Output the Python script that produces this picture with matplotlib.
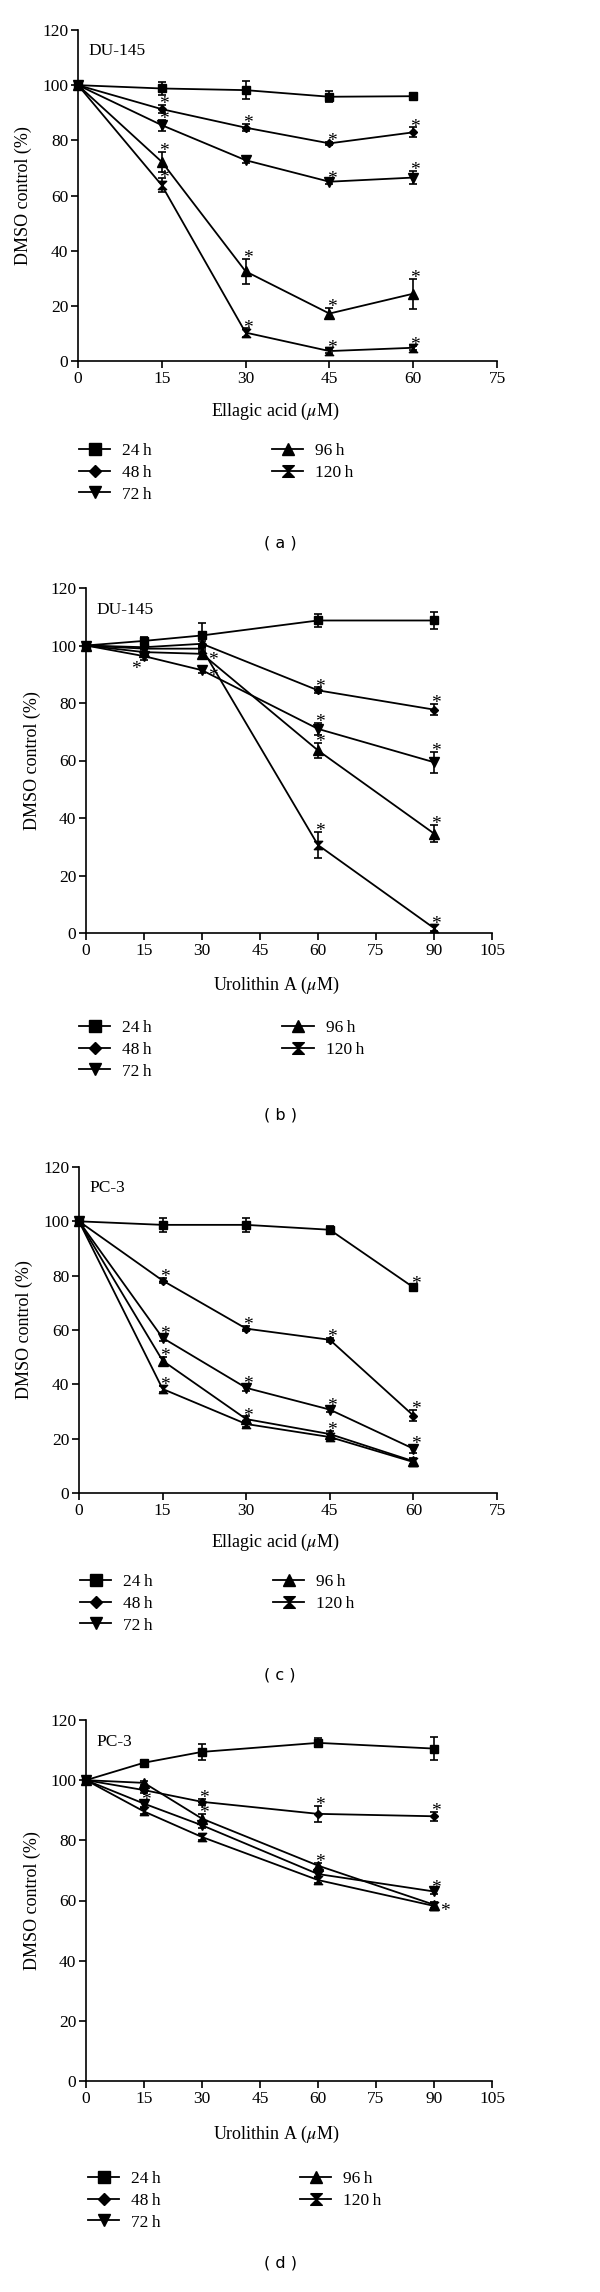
import matplotlib
matplotlib.use("Agg")
import matplotlib.pyplot as plt
from matplotlib.lines import Line2D

plt.rcParams['font.family'] = ['Liberation Serif', 'DejaVu Serif']
plt.rcParams['mathtext.fontset'] = 'stix'

# === données ===
labels = ["24\u2009h", "48\u2009h", "72\u2009h", "96\u2009h", "120\u2009h"]

# (a) DU-145, acide ellagique
xa = [0, 15, 30, 45, 60]
a_24 = [100, 98.8, 98.2, 95.8, 96.0]
a_48 = [100, 91.3, 84.6, 78.9, 82.9]
a_72 = [100, 85.5, 72.8, 65.0, 66.5]
a_96 = [100, 72.2, 32.5, 17.2, 24.4]
a_120 = [100, 63.7, 10.3, 3.6, 4.8]
a_err = [[0, 2.5, 3.3, 2.0, 1.0], [0, 1.5, 1.3, 0.5, 1.8], [0, 2.0, 1.0, 0.7, 2.5],
         [0, 3.5, 4.5, 2.0, 5.5], [0, 2.5, 1.5, 0.7, 0.8]]
a_sig = [[0, 0, 0, 0, 0], [0, 1, 1, 1, 1], [0, 1, 0, 1, 1], [0, 1, 1, 1, 1], [0, 1, 1, 1, 1]]

# (b) DU-145, urolithine A
xb = [0, 15, 30, 60, 90]
b_24 = [100, 101.6, 103.5, 108.7, 108.7]
b_48 = [100, 99.4, 100.6, 84.4, 77.7]
b_72 = [100, 96.3, 91.4, 71.0, 59.4]
b_96 = [100, 97.7, 97.1, 63.5, 34.6]
b_120 = [100, 98.9, 98.9, 30.6, 1.7]
b_err = [[0, 1.5, 4.2, 2.2, 3.0], [0, 1.0, 1.0, 1.0, 2.0], [0, 1.5, 1.0, 2.0, 3.6],
         [0, 1.0, 1.5, 2.5, 3.0], [0, 1.0, 1.0, 4.5, 1.0]]
b_sig = [[0, 0, 0, 0, 0], [0, 0, 0, 1, 1], [0, 'l', 'r', 1, 1], [0, 0, 'r', 1, 1], [0, 0, 0, 1, 1]]

# (c) PC-3, acide ellagique
xc = [0, 15, 30, 45, 60]
c_24 = [100, 98.7, 98.7, 96.9, 75.7]
c_48 = [100, 78.2, 60.5, 56.4, 28.5]
c_72 = [100, 57.1, 38.7, 30.7, 16.3]
c_96 = [100, 48.7, 27.2, 21.7, 11.7]
c_120 = [100, 38.3, 25.4, 20.6, 11.4]
c_err = [[0, 2.5, 2.5, 1.5, 1.0], [0, 1.0, 1.0, 0.7, 2.0], [0, 1.0, 1.0, 1.0, 1.5],
         [0, 1.5, 1.0, 1.0, 1.0], [0, 1.0, 1.0, 1.0, 1.0]]
c_sig = [[0, 0, 0, 0, 1], [0, 1, 1, 1, 1], [0, 1, 1, 1, 1], [0, 1, 1, 1, 0], [0, 1, 0, 0, 0]]

# (d) PC-3, urolithine A
xd = [0, 15, 30, 60, 90]
d_24 = [100, 105.8, 109.4, 112.4, 110.5]
d_48 = [100, 96.7, 92.8, 88.8, 88.0]
d_72 = [100, 92.2, 85.0, 68.8, 63.0]
d_96 = [100, 99.1, 87.2, 71.6, 58.6]
d_120 = [100, 89.6, 81.1, 66.8, 58.2]
d_err = [[0, 0.8, 2.7, 1.5, 3.8], [0, 1.0, 1.0, 2.7, 1.5], [0, 1.0, 1.0, 1.0, 1.0],
         [0, 0.7, 1.5, 1.0, 1.0], [0, 1.0, 1.0, 1.0, 1.0]]
d_sig = [[0, 0, 0, 0, 0], [0, 0, 1, 1, 1], [0, 1, 0, 0, 1], [0, 0, 1, 1, 'r'], [0, 0, 0, 0, 0]]

# === style ===
hourglass = [(-1, 1), (1, 1), (-1, -1), (1, -1), (-1, 1)]
markers = ['s', 'D', 'v', '^', hourglass]
msizes = [6, 4.5, 6.5, 6.5, 6]

panels = [
    dict(x=xa, ys=[a_24, a_48, a_72, a_96, a_120], err=a_err, sig=a_sig, xmax=75,
         name="DU-145", xlabel=r"Ellagic acid ($\mu$M)", tag="( a )",
         box=(78, 497, 30, 361), leg=(79, 443, 6.9)),
    dict(x=xb, ys=[b_24, b_48, b_72, b_96, b_120], err=b_err, sig=b_sig, xmax=105,
         name="DU-145", xlabel=r"Urolithin A ($\mu$M)", tag="( b )",
         box=(86, 492, 588, 933), leg=(79, 1020, 7.5)),
    dict(x=xc, ys=[c_24, c_48, c_72, c_96, c_120], err=c_err, sig=c_sig, xmax=75,
         name="PC-3", xlabel=r"Ellagic acid ($\mu$M)", tag="( c )",
         box=(79, 497, 1167, 1493), leg=(80, 1574, 6.9)),
    dict(x=xd, ys=[d_24, d_48, d_72, d_96, d_120], err=d_err, sig=d_sig, xmax=105,
         name="PC-3", xlabel=r"Urolithin A ($\mu$M)", tag="( d )",
         box=(86, 492, 1720, 2081), leg=(88, 2171, 8.0)),
]

W, H = 600, 2292
fig = plt.figure(figsize=(W / 100, H / 100), dpi=100)

for p in panels:
    l, r, t, b = p['box']
    ax = fig.add_axes([l / W, 1 - b / H, (r - l) / W, (b - t) / H])

    for k in range(5):
        ax.errorbar(p['x'], p['ys'][k], yerr=p['err'][k], color='k', lw=1.3,
                    marker=markers[k], ms=msizes[k], elinewidth=1.2, capsize=3.2,
                    capthick=1.2, clip_on=False)
        for i, s in enumerate(p['sig'][k]):
            if not s:
                continue
            top = p['ys'][k][i] + p['err'][k][i]
            off = (1.5, -3)
            if s == 'r':
                top = p['ys'][k][i]
                off = (8, -8)
            elif s == 'l':
                top = p['ys'][k][i]
                off = (-6, -13)
            ax.annotate('*', (p['x'][i], top), xytext=off, textcoords='offset points',
                        ha='center', va='baseline', fontsize=14)

    ax.set_xlim(0, p['xmax'])
    ax.set_ylim(0, 120)
    ax.set_xticks(range(0, p['xmax'] + 1, 15))
    ax.set_yticks(range(0, 121, 20))
    ax.spines['top'].set_visible(False)
    ax.spines['right'].set_visible(False)
    ax.spines['left'].set_linewidth(1.2)
    ax.spines['bottom'].set_linewidth(1.2)
    ax.tick_params(direction='out', length=5, width=1.2, labelsize=12.5, pad=2)

    ax.text(0.025, 0.96, p['name'], transform=ax.transAxes, fontsize=12.5,
            ha='left', va='top')
    ax.set_ylabel("DMSO control (%)", fontsize=13)
    ax.yaxis.set_label_coords(-0.11, 0.5)
    ax.set_xlabel(p['xlabel'], fontsize=13)
    ax.xaxis.set_label_coords(0.47, -0.12)

    handles = [Line2D([], [], color='k', lw=1.3, marker=markers[k], ms=msizes[k] * 1.4)
               for k in range(5)]
    lx, ly, cs = p['leg']
    ax.legend(handles, labels, ncol=2, loc='upper left',
              bbox_to_anchor=(lx / W, 1 - ly / H), bbox_transform=fig.transFigure,
              frameon=False, fontsize=12.5, handlelength=1.8, handletextpad=0.7,
              columnspacing=cs, labelspacing=0.32, borderpad=0, borderaxespad=0)

    fig.text(280 / W, 1 - (b + 182) / H, p['tag'], family='DejaVu Sans',
             fontsize=11.5, ha='center', va='center')

fig.savefig("out.png", dpi=100)
